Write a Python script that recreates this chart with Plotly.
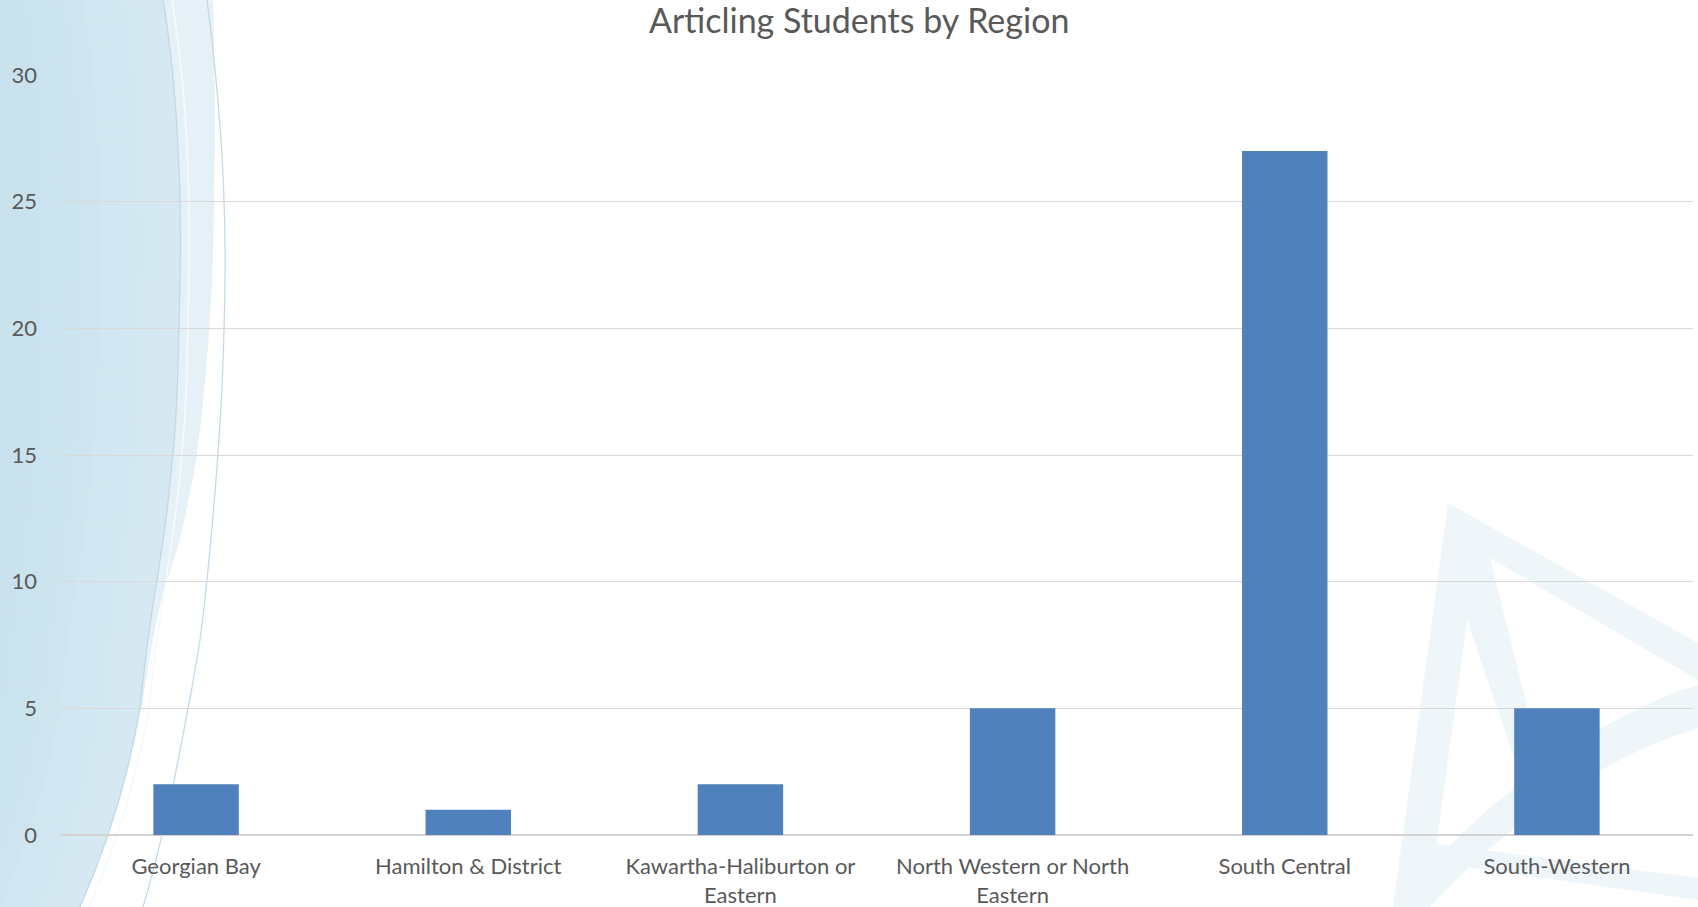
import plotly.graph_objects as go

# ---- data ----
categories = ["Georgian Bay", "Hamilton & District", "Kawartha-Haliburton or Eastern",
              "North Western or North Eastern", "South Central", "South-Western"]
tick_labels = ["Georgian Bay", "Hamilton & District", "Kawartha-Haliburton or<br>Eastern",
               "North Western or North<br>Eastern", "South Central", "South-Western"]
values = [2, 1, 2, 5, 27, 5]
y_ticks = [0, 5, 10, 15, 20, 25, 30]

W, H = 1698, 907
ML, MR, MT, MB = 60, 5, 75, 72
PW = W - ML - MR
PH = H - MT - MB


def px(x, y):
    return (x - ML) / PW, (H - MB - y) / PH


def path_from(cmds, close=False):
    out = []
    for c in cmds:
        op = c[0]
        coords = []
        for (x, y) in c[1:]:
            u, v = px(x, y)
            coords.append(f"{u:.5f},{v:.5f}")
        out.append(op + " " + " ".join(coords))
    s = " ".join(out)
    return s + " Z" if close else s


def edge(dx):
    return [("M", (163 + dx, 0)),
            ("C", (178 + dx, 90), (182 + dx, 200), (180 + dx, 280)),
            ("C", (178 + dx, 360), (178 + dx, 400), (173 + dx, 453)),
            ("C", (168 + dx, 510), (162 + dx, 550), (157 + dx, 580)),
            ("C", (150 + dx, 620), (145 + dx, 660), (140 + dx, 708)),
            ("C", (128 + dx, 780), (105 + dx, 850), (80 + dx, 907))]


def swoosh(dx):
    e = edge(dx)
    return path_from([("M", (0, 0)), ("L", (163 + dx, 0))] + e[1:] + [("L", (0, 907))], close=True)


shapes = []
# left swoosh - light band
shapes.append(dict(type="path", xref="paper", yref="paper", layer="below",
                   path=path_from([("M", (0, 0)), ("L", (213, 0)),
                                   ("C", (216, 100), (215, 200), (212, 280)),
                                   ("C", (208, 360), (203, 410), (197, 453)),
                                   ("C", (188, 510), (178, 550), (167, 580)),
                                   ("C", (158, 610), (150, 650), (142, 708)),
                                   ("L", (0, 708))], close=True),
                   fillcolor="#e5f1f7", line=dict(width=0)))
# main fill + gentle gradient towards the left edge
shapes.append(dict(type="path", xref="paper", yref="paper", layer="below",
                   path=swoosh(0), fillcolor="#d6e9f3", line=dict(width=0)))
for dx in (-20, -40, -60, -80, -100, -120, -140):
    shapes.append(dict(type="path", xref="paper", yref="paper", layer="below",
                       path=swoosh(dx), fillcolor="rgba(188,222,238,0.06)", line=dict(width=0)))
# thin lines
shapes.append(dict(type="path", xref="paper", yref="paper", layer="below",
                   path=path_from(edge(0)), line=dict(color="#bfd9e6", width=1.3)))
shapes.append(dict(type="path", xref="paper", yref="paper", layer="below",
                   path=path_from(edge(9)), line=dict(color="#f4f9fc", width=1.6)))
shapes.append(dict(type="path", xref="paper", yref="paper", layer="below",
                   path=path_from([("M", (207, 0)),
                                   ("C", (220, 100), (226, 200), (225, 280)),
                                   ("C", (224, 360), (222, 400), (218, 453)),
                                   ("C", (214, 510), (210, 550), (207, 580)),
                                   ("C", (204, 610), (202, 625), (200, 640)),
                                   ("C", (195, 670), (192, 690), (188, 708)),
                                   ("C", (175, 780), (160, 850), (143, 907))]),
                   line=dict(color="#c3dbe8", width=1.3)))
# star / compass in lower right (very faint)
star = "#eff6fa"
shapes.append(dict(type="path", xref="paper", yref="paper", layer="below",
                   path=path_from([("M", (1448, 503)), ("L", (1698, 643)), ("L", (1698, 680)),
                                   ("L", (1490, 558)), ("L", (1548, 790)), ("L", (1525, 790)),
                                   ("L", (1467, 620)), ("L", (1428, 907)), ("L", (1393, 907))], close=True),
                   fillcolor=star, line=dict(width=0)))
shapes.append(dict(type="path", xref="paper", yref="paper", layer="below",
                   path=path_from([("M", (1698, 685)), ("C", (1600, 715), (1480, 800), (1395, 907)),
                                   ("L", (1430, 907)), ("C", (1515, 815), (1610, 755), (1698, 728))], close=True),
                   fillcolor=star, line=dict(width=0)))
shapes.append(dict(type="path", xref="paper", yref="paper", layer="below",
                   path=path_from([("M", (1430, 843)), ("L", (1698, 878)), ("L", (1698, 900)),
                                   ("L", (1430, 862))], close=True),
                   fillcolor=star, line=dict(width=0)))

fig = go.Figure()
fig.add_trace(go.Bar(x=categories, y=values, marker=dict(color="#4f81bd", line=dict(width=0)),
                     hoverinfo="x+y"))

font_family = "Lato, 'Open Sans', sans-serif"
fig.update_layout(
    width=W, height=H,
    margin=dict(l=ML, r=MR, t=MT, b=MB, pad=0, autoexpand=False),
    paper_bgcolor="white",
    plot_bgcolor="rgba(0,0,0,0)",
    shapes=shapes,
    bargap=0.686,
    showlegend=False,
    title=dict(text="Articling Students by Region", x=0.506, xanchor="center",
               y=1 - 21 / H, yanchor="middle",
               font=dict(family=font_family, size=34, color="#595959")),
    font=dict(family=font_family, color="#595959"),
)
fig.update_xaxes(
    tickvals=categories, ticktext=tick_labels,
    tickfont=dict(size=22, color="#595959"),
    ticks="outside", ticklen=12, tickcolor="rgba(0,0,0,0)",
    showline=False, showgrid=False, zeroline=False, automargin=False,
)
fig.update_yaxes(
    range=[0, 30], tickvals=y_ticks,
    tickfont=dict(size=22, color="#595959"),
    ticklabelstandoff=22,
    showgrid=True, gridcolor="#d9d9d9", gridwidth=1.4,
    zeroline=True, zerolinecolor="#d3d3d3", zerolinewidth=1.6,
    showline=False, ticks="", automargin=False,
)

fig.write_html("out.html", config={"displayModeBar": False},
               post_script="document.body.style.margin='0';document.body.style.overflow='hidden';")
